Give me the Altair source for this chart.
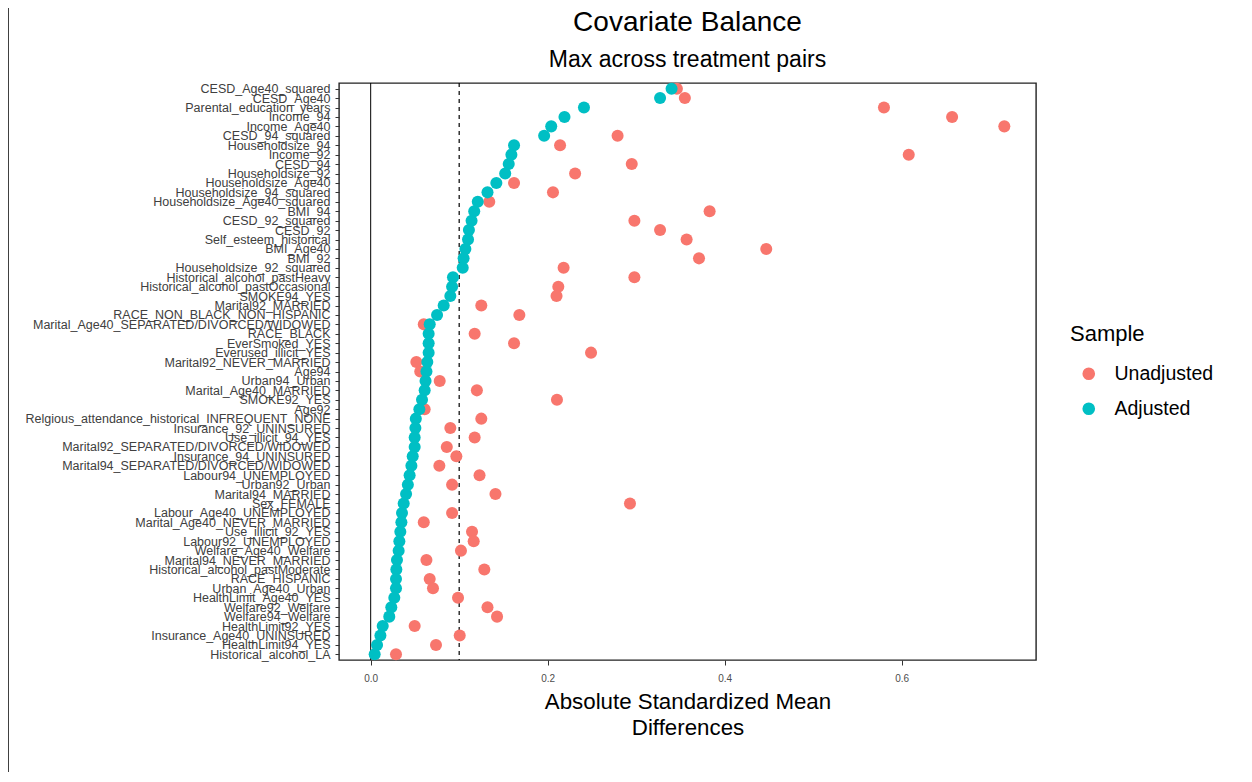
import altair as alt
import pandas as pd

variables = [
    "CESD_Age40_squared", "CESD_Age40", "Parental_education_years", "Income_94",
    "Income_Age40", "CESD_94_squared", "Householdsize_94", "Income_92", "CESD_94",
    "Householdsize_92", "Householdsize_Age40", "Householdsize_94_squared",
    "Householdsize_Age40_squared", "BMI_94", "CESD_92_squared", "CESD_92",
    "Self_esteem_historical", "BMI_Age40", "BMI_92", "Householdsize_92_squared",
    "Historical_alcohol_pastHeavy", "Historical_alcohol_pastOccasional", "SMOKE94_YES",
    "Marital92_MARRIED", "RACE_NON_BLACK_NON_HISPANIC",
    "Marital_Age40_SEPARATED/DIVORCED/WIDOWED", "RACE_BLACK", "EverSmoked_YES",
    "Everused_illicit_YES", "Marital92_NEVER_MARRIED", "Age94", "Urban94_Urban",
    "Marital_Age40_MARRIED", "SMOKE92_YES", "Age92",
    "Relgious_attendance_historical_INFREQUENT_NONE", "Insurance_92_UNINSURED",
    "Use_illicit_94_YES", "Marital92_SEPARATED/DIVORCED/WIDOWED",
    "Insurance_94_UNINSURED", "Marital94_SEPARATED/DIVORCED/WIDOWED",
    "Labour94_UNEMPLOYED", "Urban92_Urban", "Marital94_MARRIED", "Sex_FEMALE",
    "Labour_Age40_UNEMPLOYED", "Marital_Age40_NEVER_MARRIED", "Use_illicit_92_YES",
    "Labour92_UNEMPLOYED", "Welfare_Age40_Welfare", "Marital94_NEVER_MARRIED",
    "Historical_alcohol_pastModerate", "RACE_HISPANIC", "Urban_Age40_Urban",
    "HealthLimit_Age40_YES", "Welfare92_Welfare", "Welfare94_Welfare",
    "HealthLimit92_YES", "Insurance_Age40_UNINSURED", "HealthLimit94_YES",
    "Historical_alcohol_LA",
]

adjusted = [
    0.340, 0.327, 0.241, 0.219, 0.204, 0.196, 0.162, 0.159, 0.156, 0.152,
    0.142, 0.132, 0.121, 0.117, 0.114, 0.111, 0.110, 0.107, 0.105, 0.104,
    0.093, 0.092, 0.090, 0.0825, 0.075, 0.0667, 0.0655, 0.0655, 0.0655, 0.064,
    0.063, 0.062, 0.061, 0.058, 0.055, 0.051, 0.0505, 0.0497, 0.0497, 0.0475,
    0.046, 0.044, 0.042, 0.040, 0.0373, 0.0354, 0.0347, 0.0335, 0.0324, 0.0316,
    0.0297, 0.029, 0.0286, 0.0286, 0.0267, 0.0233, 0.021, 0.0136, 0.011, 0.0072,
    0.0045,
]

unadjusted = [
    0.346, 0.355, 0.580, 0.657, 0.716, 0.279, 0.214, 0.608, 0.295, 0.231,
    0.162, 0.206, 0.134, 0.383, 0.298, 0.327, 0.357, 0.447, 0.371, 0.218,
    0.298, 0.212, 0.210, 0.125, 0.168, 0.060, 0.1175, 0.162, 0.249, 0.0516,
    0.056, 0.078, 0.120, 0.2105, 0.061, 0.125, 0.090, 0.1175, 0.086, 0.0968,
    0.0776, 0.123, 0.092, 0.141, 0.293, 0.092, 0.060, 0.1145, 0.1164, 0.102,
    0.063, 0.1284, 0.0667, 0.0704, 0.0987, 0.132, 0.1428, 0.0497, 0.1006, 0.0738,
    0.0286,
]

samples = ["Unadjusted", "Adjusted"]
colors = ["#F8766D", "#00BFC4"]
x_ticks = [0.0, 0.2, 0.4, 0.6]
title_text = "Covariate Balance"
subtitle_text = "Max across treatment pairs"

assert len(variables) == len(adjusted) == len(unadjusted)

df = pd.DataFrame({
    "variable": variables + variables,
    "sample": ["Unadjusted"] * len(variables) + ["Adjusted"] * len(variables),
    "value": unadjusted + adjusted,
})

W, H = 697, 577
PAD_L, PAD_T = 331, 75
TOTAL_W, TOTAL_H = 1236, 764

x_scale = alt.Scale(domain=[-0.0358, 0.7518], nice=False, zero=False)

points = alt.Chart(df).mark_circle(size=145, opacity=1).encode(
    x=alt.X("value:Q", scale=x_scale,
            axis=alt.Axis(values=x_ticks, format=".1f", labelFontSize=10,
                          labelColor="#4D4D4D", tickColor="#333333", tickSize=5,
                          labelPadding=8, grid=False, domain=False,
                          title=["Absolute Standardized Mean", "Differences"],
                          titleFontSize=22.3, titleFontWeight="normal",
                          titleColor="black", titlePadding=7, titleLineHeight=26)),
    y=alt.Y("variable:N", sort=variables,
            scale=alt.Scale(type="point", padding=0.6),
            axis=alt.Axis(title=None, labelFontSize=12.5, labelColor="#404040",
                          tickColor="#333333", tickSize=4, labelPadding=5,
                          labelOverlap=False, labelLimit=500, grid=False,
                          domain=False)),
    color=alt.Color("sample:N", scale=alt.Scale(domain=samples, range=colors),
                    sort=samples,
                    legend=alt.Legend(title="Sample", orient="none",
                                      legendX=731, legendY=241,
                                      titleFontSize=22, titleFontWeight="normal",
                                      titleColor="black", labelFontSize=19.5,
                                      labelColor="black", symbolSize=160,
                                      symbolType="circle", rowPadding=14,
                                      titlePadding=18, symbolOffset=9,
                                      labelOffset=16, padding=0)),
)

zero_rule = alt.Chart(pd.DataFrame({"v": [0.0]})).mark_rule(
    color="black", strokeWidth=1).encode(x=alt.X("v:Q", scale=x_scale))
thresh_rule = alt.Chart(pd.DataFrame({"v": [0.1]})).mark_rule(
    color="black", strokeWidth=1.2, strokeDash=[4, 4]).encode(
    x=alt.X("v:Q", scale=x_scale))

page_line = alt.Chart(pd.DataFrame({"a": [0]})).mark_rule(
    color="black", strokeWidth=2.5).encode(
    x=alt.value(-PAD_L - 0.5), y=alt.value(-PAD_T - 10), y2=alt.value(H + 250))

title_layer = alt.Chart(pd.DataFrame({"t": [title_text]})).mark_text(
    fontSize=28, color="black", align="center", baseline="middle").encode(
    text="t:N", x=alt.value(W / 2), y=alt.value(23 - 83))
subtitle_layer = alt.Chart(pd.DataFrame({"t": [subtitle_text]})).mark_text(
    fontSize=23, color="black", align="center", baseline="middle").encode(
    text="t:N", x=alt.value(W / 2), y=alt.value(60 - 83))

chart = alt.layer(zero_rule, thresh_rule, points, page_line,
                  title_layer, subtitle_layer).properties(
    width=W, height=H,
    autosize=alt.AutoSizeParams(type="none"),
    padding={"left": PAD_L, "top": PAD_T, "right": TOTAL_W - PAD_L - W,
             "bottom": TOTAL_H - PAD_T - H},
).configure(font="Liberation Sans").configure_view(
    stroke="#222222", strokeWidth=1.4)

chart.save("out.html", embed_options={"renderer": "svg", "actions": False})
